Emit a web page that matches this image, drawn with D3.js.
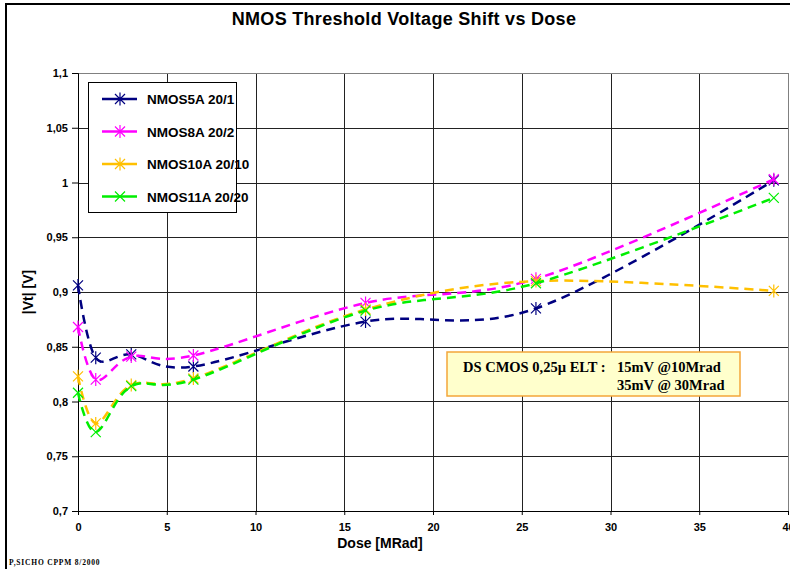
<!DOCTYPE html>
<html>
<head>
<meta charset="utf-8">
<script src="https://cdn.jsdelivr.net/npm/d3@7"></script>
<style>
  body { margin: 0; background: #fff; }
  svg { display: block; }
  .tick text { font-family: "Liberation Sans", Arial, sans-serif; font-weight: bold; font-size: 11px; fill: #000; }
</style>
</head>
<body>
<div id="chart"></div>
<script>
// dose values (MRad) shared by all series
var doses = [0, 1, 3, 6.5, 16.2, 25.8, 39.2];

// |Vt| per device
var nmos5a  = [0.906, 0.840, 0.843, 0.832, 0.873, 0.885, 1.002];
var nmos8a  = [0.868, 0.820, 0.841, 0.842, 0.890, 0.912, 1.003];
var nmos10a = [0.823, 0.780, 0.815, 0.821, 0.884, 0.910, 0.901];
var nmos11a = [0.808, 0.772, 0.814, 0.820, 0.883, 0.908, 0.986];

var seriesNames = ['NMOS5A 20/1', 'NMOS8A 20/2', 'NMOS10A 20/10', 'NMOS11A 20/20'];
var seriesColors = ['#000080', '#ff00ff', '#ffc000', '#00ee00'];
var seriesMarkers = ['star', 'star', 'star', 'cross'];

var xTicks = [0, 5, 10, 15, 20, 25, 30, 35, 40];
var yTicks = [0.7, 0.75, 0.8, 0.85, 0.9, 0.95, 1, 1.05, 1.1];

var W = 790, H = 569;
var margin = {top: 73, left: 78, right: 2, bottom: 58};
var width = W - margin.left - margin.right;
var height = H - margin.top - margin.bottom;

var svg = d3.select('#chart').append('svg')
    .attr('width', W)
    .attr('height', H);

// outer frame
svg.append('rect')
    .attr('x', 6).attr('y', 4)
    .attr('width', 820).attr('height', 620)
    .attr('fill', 'none')
    .attr('stroke', '#000')
    .attr('stroke-width', 2);

var g = svg.append('g')
    .attr('transform', 'translate(' + margin.left + ',' + margin.top + ')');

var x = d3.scaleLinear().domain([0, 40]).range([0, width]);
var y = d3.scaleLinear().domain([0.7, 1.1]).range([height, 0]);

var fmt = function(d) { return String(+d.toFixed(2)).replace('.', ','); };

// grid
g.append('g').selectAll('line.h')
    .data(yTicks.slice(1))
    .enter().append('line')
      .attr('x1', 0).attr('x2', width)
      .attr('y1', d => Math.round(y(d)) + 0.5).attr('y2', d => Math.round(y(d)) + 0.5)
      .attr('stroke', '#222').attr('stroke-width', 1);
g.append('g').selectAll('line.v')
    .data(xTicks.slice(1))
    .enter().append('line')
      .attr('x1', d => Math.round(x(d)) + 0.5).attr('x2', d => Math.round(x(d)) + 0.5)
      .attr('y1', 0).attr('y2', height)
      .attr('stroke', '#222').attr('stroke-width', 1);

// plot border
g.append('rect')
    .attr('x', 0.5).attr('y', 0.5)
    .attr('width', width).attr('height', height)
    .attr('fill', 'none')
    .attr('stroke', '#808080');

// axes
var yAxis = d3.axisLeft(y).tickValues(yTicks).tickFormat(fmt).tickSize(6).tickPadding(4);
var xAxis = d3.axisBottom(x).tickValues(xTicks).tickFormat(d => d).tickSize(4).tickPadding(8);

g.append('g').call(yAxis)
    .call(a => a.select('.domain').attr('stroke', '#000'));
g.append('g').attr('transform', 'translate(0,' + height + ')').call(xAxis)
    .call(a => a.select('.domain').attr('stroke', '#000'));

// marker shapes
function markerPath(type, s) {
  var p = 'M' + (-s) + ',' + (-s) + 'L' + s + ',' + s + 'M' + (-s) + ',' + s + 'L' + s + ',' + (-s);
  if (type === 'star') p += 'M0,' + (-s * 1.3) + 'L0,' + (s * 1.3);
  return p;
}

var line = d3.line()
    .x(d => x(d[0]))
    .y(d => y(d[1]))
    .curve(d3.curveCatmullRom.alpha(0));

var allSeries = [nmos5a, nmos8a, nmos10a, nmos11a];
allSeries.forEach(function(vals, i) {
  var pts = doses.map((d, j) => [d, vals[j]]);
  g.append('path')
      .datum(pts)
      .attr('d', line)
      .attr('fill', 'none')
      .attr('stroke', seriesColors[i])
      .attr('stroke-width', 2.5)
      .attr('stroke-dasharray', '9,6');
  g.append('g').selectAll('path')
      .data(pts)
      .enter().append('path')
        .attr('transform', d => 'translate(' + x(d[0]) + ',' + y(d[1]) + ')')
        .attr('d', markerPath(seriesMarkers[i], 5))
        .attr('fill', 'none')
        .attr('stroke', seriesColors[i])
        .attr('stroke-width', 1.2);
});

// legend
var lg = svg.append('g').attr('transform', 'translate(88,82)');
lg.append('rect')
    .attr('x', 0.5).attr('y', 0.5)
    .attr('width', 148).attr('height', 130)
    .attr('fill', '#fff')
    .attr('stroke', '#000');
seriesNames.forEach(function(name, i) {
  var yy = 17 + i * 32.5;
  lg.append('line')
      .attr('x1', 14).attr('x2', 49)
      .attr('y1', yy).attr('y2', yy)
      .attr('stroke', seriesColors[i]).attr('stroke-width', 2.5);
  lg.append('path')
      .attr('transform', 'translate(32,' + yy + ')')
      .attr('d', markerPath(seriesMarkers[i], 5))
      .attr('fill', 'none')
      .attr('stroke', seriesColors[i])
      .attr('stroke-width', 1.2);
  lg.append('text')
      .attr('x', 59).attr('y', yy + 5)
      .attr('font-family', '"Liberation Sans", Arial, sans-serif')
      .attr('font-weight', 'bold')
      .attr('font-size', 13.5)
      .text(name);
});

// annotation box
var ann = svg.append('g').attr('transform', 'translate(447,352)');
ann.append('rect')
    .attr('width', 293).attr('height', 44)
    .attr('fill', '#ffffcc')
    .attr('stroke', '#f4a63a')
    .attr('stroke-width', 1.5);
ann.append('text')
    .attr('x', 16).attr('y', 20)
    .attr('font-family', '"Liberation Serif", "Times New Roman", serif')
    .attr('font-weight', 'bold').attr('font-size', 14.5)
    .text('DS CMOS 0,25µ ELT :');
ann.append('text')
    .attr('x', 170).attr('y', 20)
    .attr('font-family', '"Liberation Serif", "Times New Roman", serif')
    .attr('font-weight', 'bold').attr('font-size', 14.5)
    .text('15mV @10Mrad');
ann.append('text')
    .attr('x', 170).attr('y', 38)
    .attr('font-family', '"Liberation Serif", "Times New Roman", serif')
    .attr('font-weight', 'bold').attr('font-size', 14.5)
    .text('35mV @ 30Mrad');

// titles
svg.append('text')
    .attr('x', 404).attr('y', 25)
    .attr('text-anchor', 'middle')
    .attr('font-family', '"Liberation Sans", Arial, sans-serif')
    .attr('font-weight', 'bold').attr('font-size', 18)
    .attr('letter-spacing', 0.3)
    .text('NMOS Threshold Voltage Shift vs Dose');
svg.append('text')
    .attr('x', 380).attr('y', 548)
    .attr('text-anchor', 'middle')
    .attr('font-family', '"Liberation Sans", Arial, sans-serif')
    .attr('font-weight', 'bold').attr('font-size', 14)
    .text('Dose [MRad]');
svg.append('text')
    .attr('transform', 'translate(33,292) rotate(-90)')
    .attr('text-anchor', 'middle')
    .attr('font-family', '"Liberation Sans", Arial, sans-serif')
    .attr('font-weight', 'bold').attr('font-size', 14)
    .text('|Vt| [V]');
svg.append('text')
    .attr('x', 9).attr('y', 565)
    .attr('font-family', '"Liberation Serif", "Times New Roman", serif')
    .attr('font-weight', 'bold').attr('font-size', 7.5)
    .attr('letter-spacing', 0.8)
    .text('P,SICHO CPPM 8/2000');
</script>
</body>
</html>
